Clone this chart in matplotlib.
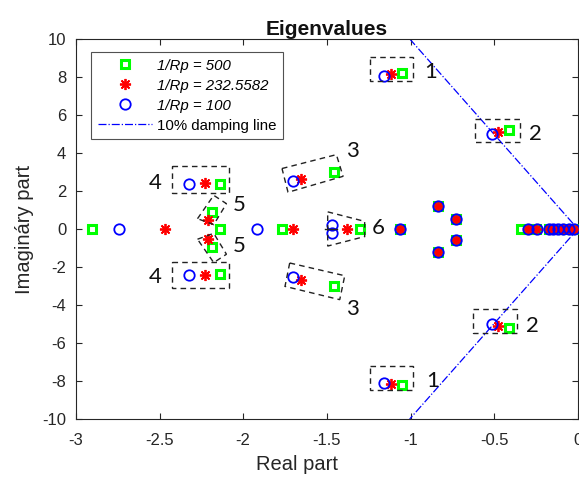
import matplotlib
matplotlib.use("Agg")
import matplotlib.pyplot as plt
from matplotlib.patches import Polygon

plt.rcParams['font.family'] = ['Liberation Sans', 'DejaVu Sans']
plt.rcParams['axes.unicode_minus'] = False

# ---- data ----
# 1/Rp = 500 (green squares)
sq_re = [-1.049, -1.049, -0.414, -0.414, -1.459, -1.459, -2.140, -2.140,
         -2.184, -2.184, -2.140,
         -2.904, -1.766, -1.304, -1.065, -0.836, -0.836, -0.730, -0.730,
         -0.342, -0.300, -0.250, -0.170, -0.140, -0.100, -0.060, -0.030]
sq_im = [8.19, -8.22, 5.18, -5.22, 2.98, -3.02, 2.35, -2.37,
         0.90, -0.96, 0.0,
         0.0, 0.0, 0.0, 0.0, 1.20, -1.22, 0.55, -0.57,
         0.0, 0.0, 0.0, 0.0, 0.0, 0.0, 0.0, 0.0]

# 1/Rp = 232.5582 (red asterisks)
st_re = [-1.115, -1.115, -0.476, -0.476, -1.652, -1.652, -2.226, -2.226,
         -2.212, -2.212,
         -2.466, -1.702, -1.379, -1.065, -0.836, -0.836, -0.730, -0.730,
         -0.300, -0.250, -0.170, -0.130, -0.090, -0.050, -0.020]
st_im = [8.15, -8.16, 5.10, -5.09, 2.63, -2.68, 2.40, -2.42,
         0.49, -0.51,
         0.0, 0.0, 0.0, 0.0, 1.20, -1.22, 0.55, -0.57,
         0.0, 0.0, 0.0, 0.0, 0.0, 0.0, 0.0]

# 1/Rp = 100 (blue circles)
ci_re = [-1.160, -1.160, -0.513, -0.513, -1.702, -1.702, -2.323, -2.323,
         -1.467, -1.467,
         -2.741, -1.917, -1.065, -0.836, -0.836, -0.730, -0.730,
         -0.300, -0.245, -0.170, -0.150, -0.120, -0.090, -0.050, -0.020]
ci_im = [8.07, -8.10, 4.98, -4.98, 2.51, -2.54, 2.39, -2.44,
         0.19, -0.19,
         0.0, 0.0, 0.0, 1.20, -1.22, 0.55, -0.57,
         0.0, 0.0, 0.0, 0.0, 0.0, 0.0, 0.0, 0.0]

# 10% damping line
damp_re = [-1.005, 0.0, -1.005]
damp_im = [10.0, 0.0, -10.0]

series_labels = ['1/Rp = 500', '1/Rp = 232.5582', '1/Rp = 100']
damp_label = '10% damping line'

x_ticks = [-3, -2.5, -2, -1.5, -1, -0.5, 0]
x_ticklabels = ['-3', '-2.5', '-2', '-1.5', '-1', '-0.5', '0']
y_ticks = [-10, -8, -6, -4, -2, 0, 2, 4, 6, 8, 10]
y_ticklabels = ['-10', '-8', '-6', '-4', '-2', '0', '2', '4', '6', '8', '10']

# mode annotation boxes (dashed) and labels
boxes = [
    [(-1.244, 9.04), (-0.985, 9.04), (-0.985, 7.81), (-1.244, 7.81)],
    [(-1.244, -7.23), (-0.985, -7.23), (-0.985, -8.49), (-1.244, -8.49)],
    [(-0.615, 5.81), (-0.348, 5.81), (-0.348, 4.58), (-0.615, 4.58)],
    [(-0.627, -4.21), (-0.364, -4.21), (-0.364, -5.47), (-0.627, -5.47)],
    [(-2.423, 3.30), (-2.084, 3.30), (-2.084, 1.89), (-2.423, 1.89)],
    [(-2.423, -1.74), (-2.084, -1.74), (-2.084, -3.09), (-2.423, -3.09)],
    [(-1.768, 3.18), (-1.443, 3.91), (-1.403, 2.77), (-1.732, 1.93)],
    [(-1.722, -1.79), (-1.393, -2.46), (-1.423, -3.72), (-1.750, -3.02)],
    [(-2.273, 0.54), (-2.176, 1.77), (-2.100, 1.33), (-2.176, 0.23)],
    [(-2.273, -0.54), (-2.176, -0.23), (-2.100, -1.33), (-2.176, -1.77)],
    [(-1.495, 0.90), (-1.274, 0.40), (-1.274, -0.40), (-1.495, -0.90)],
]
mode_labels = ['1', '1', '2', '2', '3', '3', '4', '4', '5', '5', '6']
label_re = [-0.882, -0.866, -0.253, -0.269, -1.344, -1.348, -2.524, -2.524, -2.021, -2.021, -1.194]
label_im = [8.26, -7.98, 5.02, -5.12, 4.09, -4.21, 2.42, -2.53, 1.25, -0.88, 0.05]

# ---- figure ----
fig = plt.figure(figsize=(5.79, 4.80), dpi=100)
ax = fig.add_axes([0.131, 0.127, 0.867, 0.792])

ax.plot(sq_re, sq_im, linestyle='none', marker='s', ms=6, mfc='none',
        mec='#00ff00', mew=2.2, label=series_labels[0], zorder=3)
ax.plot(st_re, st_im, linestyle='none', marker=(8, 2, 0), ms=8, mfc='none',
        mec='#ff0000', mew=1.3, label=series_labels[1], zorder=4)
ax.plot(ci_re, ci_im, linestyle='none', marker='o', ms=7.5, mfc='none',
        mec='#0000ff', mew=1.3, label=series_labels[2], zorder=5)
ax.plot(damp_re, damp_im, color='#0000ff', linestyle='-.', lw=0.9,
        label=damp_label, zorder=2)

for pts in boxes:
    ax.add_patch(Polygon(pts, closed=True, fill=False, edgecolor='#222222',
                         linestyle=(0, (4, 3)), lw=1.0, zorder=6))
ax.plot([-1.51, -1.44], [0.0, 0.0], color='#222222', lw=1.0, zorder=6)

for t, xr, yi in zip(mode_labels, label_re, label_im):
    ax.text(xr, yi, t, fontsize=16, family=['Lato', 'DejaVu Sans'],
            ha='center', va='center', color='#111111', zorder=7)

ax.set_xlim(-3, 0)
ax.set_ylim(-10, 10)
ax.set_xticks(x_ticks)
ax.set_xticklabels(x_ticklabels)
ax.set_yticks(y_ticks)
ax.set_yticklabels(y_ticklabels)
ax.tick_params(direction='in', top=True, right=True, labelsize=12,
               colors='#262626', length=4, width=0.8)
ax.tick_params(axis='x', pad=10)
ax.tick_params(axis='y', pad=7)
for s in ax.spines.values():
    s.set_color('#262626')
    s.set_linewidth(0.8)

ax.set_xlabel('Real part', fontsize=14.5, color='#262626', labelpad=3)
ax.xaxis.set_label_coords(0.44, -0.095)
ax.set_ylabel('Imagináry part', fontsize=14.5, color='#262626', labelpad=6)
ax.set_title('Eigenvalues', fontsize=15, fontweight='bold', color='#111111', pad=3)

leg = ax.legend(loc='upper left', bbox_to_anchor=(0.03, 0.966), fontsize=10.8,
                frameon=True, fancybox=False, edgecolor='#262626',
                handlelength=3.6, handletextpad=0.35, borderpad=0.45,
                labelspacing=0.4, borderaxespad=0)
leg.get_frame().set_linewidth(0.8)
for i, txt in enumerate(leg.get_texts()):
    if i < 3:
        txt.set_fontstyle('italic')

fig.savefig('out.png', dpi=100)
